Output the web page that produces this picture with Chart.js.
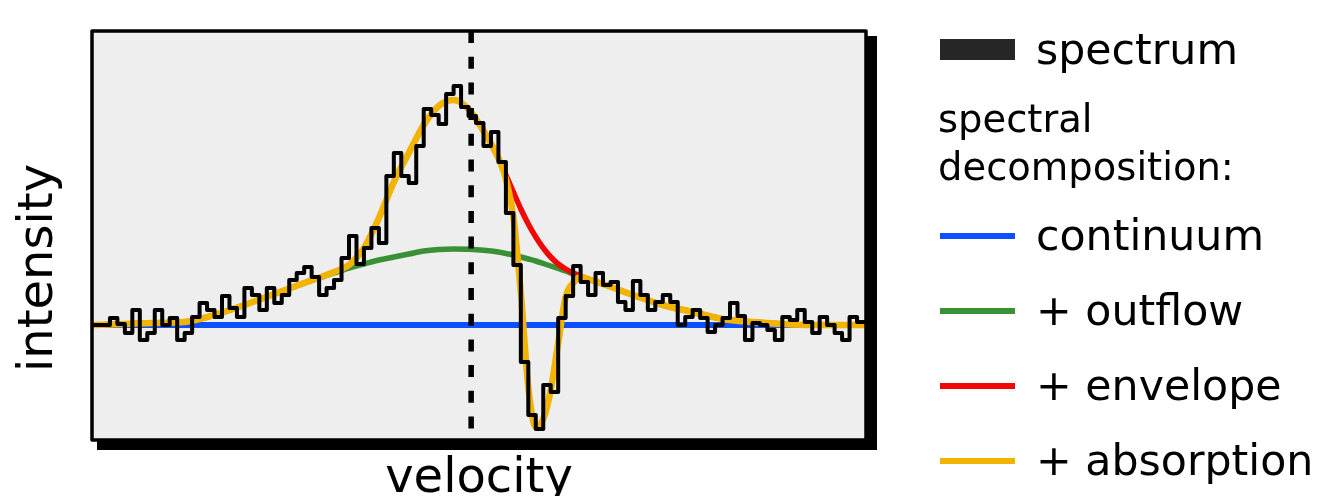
<!DOCTYPE html>
<html>
<head>
<meta charset="utf-8">
<script src="https://cdn.jsdelivr.net/npm/chart.js@4"></script>
<style>
  html, body { margin: 0; padding: 0; background: #fff; overflow: hidden; }
  #wrap { position: relative; width: 1318px; height: 496px; }
</style>
</head>
<body>
<div id="wrap"><canvas id="chart"></canvas></div>
<script>
// Axis ranges (velocity in channel units, intensity relative to the continuum)
const xMin = -2.4, xMax = 101.2;
const yMin = -0.15, yMax = 3.94;
const restVelocity = 48.35;
const continuumLevel = 1.0;

// Observed spectrum: first value covers xMin..0, then one value per channel 0..100
const spectrum = [
  1.00, 1.07, 1.01, 0.92, 1.15, 0.85, 0.92, 1.15, 1.00, 1.07,
  0.85, 0.92, 1.08, 1.22, 1.15, 1.08, 1.29, 1.17, 1.08, 1.37,
  1.30, 1.15, 1.37, 1.22, 1.30, 1.45, 1.52, 1.58, 1.48, 1.30,
  1.37, 1.45, 1.67, 1.89, 1.61, 1.77, 1.97, 1.82, 2.49, 2.72,
  2.49, 2.42, 2.79, 3.16, 3.10, 3.01, 3.31, 3.39, 3.18, 3.09,
  3.02, 2.79, 2.93, 2.63, 2.12, 1.60, 0.63, 0.10, -0.04, 0.40,
  0.33, 1.07, 1.29, 1.59, 1.43, 1.30, 1.52, 1.40, 1.43, 1.23,
  1.15, 1.44, 1.30, 1.15, 1.23, 1.30, 1.23, 1.00, 1.08, 1.15,
  1.07, 0.93, 1.00, 1.07, 1.22, 1.09, 0.85, 1.02, 1.00, 0.95,
  0.85, 1.08, 1.05, 1.15, 1.03, 0.92, 1.08, 1.00, 0.92, 0.85,
  1.08, 1.03
];

// Fitted components, sampled along the velocity axis
const curveX = [
  -2.4, 2, 6, 10, 14, 18, 22, 26, 30,
  32, 34, 36, 38, 40, 42, 44, 46, 48, 50, 52,
  53, 54, 55, 56, 57, 58, 59, 60, 61, 62, 63, 64,
  66, 70, 74, 78, 82, 86, 90, 94, 98, 101.2
];
const outflow = [
  1.00, 1.01, 1.02, 1.03, 1.10, 1.20, 1.31, 1.42, 1.52,
  1.57, 1.61, 1.65, 1.68, 1.71, 1.74, 1.755, 1.76, 1.757, 1.748, 1.73,
  1.715, 1.70, 1.68, 1.66, 1.64, 1.615, 1.59, 1.565, 1.54, 1.51, 1.485, 1.46,
  1.41, 1.30, 1.20, 1.13, 1.06, 1.03, 1.01, 1.00, 1.00, 1.00
];
const envelope = [
  1.00, 1.01, 1.02, 1.03, 1.10, 1.20, 1.31, 1.42, 1.53,
  1.60, 1.77, 2.07, 2.43, 2.72, 3.00, 3.19, 3.25, 3.16, 2.94, 2.67,
  2.50, 2.33, 2.16, 2.01, 1.88, 1.77, 1.68, 1.61, 1.56, 1.52, 1.49, 1.46,
  1.41, 1.30, 1.20, 1.13, 1.06, 1.03, 1.01, 1.00, 1.00, 1.00
];
const absorption = [
  1.00, 1.01, 1.02, 1.03, 1.10, 1.20, 1.31, 1.42, 1.53,
  1.60, 1.77, 2.07, 2.43, 2.72, 3.00, 3.19, 3.25, 3.16, 2.94, 2.67,
  2.46, 2.08, 1.32, 0.38, -0.02, 0.06, 0.35, 0.82, 1.28, 1.42, 1.48, 1.46,
  1.41, 1.30, 1.20, 1.13, 1.06, 1.03, 1.01, 1.00, 1.00, 1.00
];

const seriesLabels = ["continuum", "+ outflow", "+ envelope", "+ absorption"];
const seriesColors = ["#0d50ff", "#3a9135", "#f20707", "#f2b400"];
const FONT = '"DejaVu Sans", sans-serif';

function toPoints(xs, ys) {
  return xs.map((x, i) => ({ x: x, y: ys[i] }));
}

const spectrumPoints = spectrum.map((v, i) => ({ x: i === 0 ? xMin : i - 1, y: v }));
spectrumPoints.push({ x: xMax, y: spectrum[spectrum.length - 1] });

// Grey panel with black drop shadow and frame
const framePlugin = {
  id: "frame",
  beforeDatasetsDraw(chart) {
    const { ctx, chartArea: a } = chart;
    ctx.save();
    ctx.fillStyle = "#000";
    ctx.fillRect(a.left + 5, a.top + 5, a.width + 6, a.height + 5);
    ctx.fillStyle = "#eeeeee";
    ctx.fillRect(a.left, a.top, a.width, a.height);
    ctx.restore();
  },
  afterDatasetsDraw(chart) {
    const { ctx, chartArea: a } = chart;
    ctx.save();
    ctx.strokeStyle = "#000";
    ctx.lineWidth = 3.5;
    ctx.lineJoin = "round";
    ctx.strokeRect(a.left, a.top, a.width, a.height);
    ctx.restore();
  }
};

// Axis titles (the y title sits a little below the panel centre)
const titlePlugin = {
  id: "axisTitles",
  afterDraw(chart) {
    const { ctx, chartArea: a } = chart;
    ctx.save();
    ctx.fillStyle = "#000";
    ctx.font = "48px " + FONT;
    ctx.textAlign = "center";
    ctx.textBaseline = "alphabetic";
    ctx.fillText("velocity", (a.left + a.right) / 2, a.bottom + 51.5);
    ctx.translate(a.left - 40.5, (a.top + a.bottom) / 2 + 32.5);
    ctx.rotate(-Math.PI / 2);
    ctx.fillText("intensity", 0, 0);
    ctx.restore();
  }
};

// Legend on the right with the "spectral decomposition:" header
const legendPlugin = {
  id: "sideLegend",
  afterDraw(chart) {
    const ctx = chart.ctx;
    ctx.save();
    ctx.textAlign = "left";
    ctx.textBaseline = "alphabetic";
    ctx.fillStyle = "#262626";
    ctx.fillRect(940, 39, 75, 21);
    ctx.fillStyle = "#000";
    ctx.font = "42.7px " + FONT;
    ctx.fillText("spectrum", 1036, 64);
    ctx.font = "38.5px " + FONT;
    ctx.fillText("spectral", 938, 132);
    ctx.fillText("decomposition:", 938, 180);
    ctx.font = "42.7px " + FONT;
    ctx.lineWidth = 6;
    ctx.lineCap = "butt";
    seriesLabels.forEach((label, i) => {
      const y = 236 + 75 * i;
      ctx.strokeStyle = seriesColors[i];
      ctx.beginPath();
      ctx.moveTo(940, y);
      ctx.lineTo(1015, y);
      ctx.stroke();
      ctx.fillText(label, 1036, y + 14);
    });
    ctx.restore();
  }
};

const curveStyle = {
  pointRadius: 0,
  cubicInterpolationMode: "monotone",
  borderCapStyle: "butt",
  borderJoinStyle: "round",
  fill: false
};

new Chart(document.getElementById("chart"), {
  type: "line",
  data: {
    datasets: [
      {
        label: "spectrum",
        data: spectrumPoints,
        borderColor: "#000",
        borderWidth: 4,
        stepped: true,
        pointRadius: 0,
        borderJoinStyle: "round",
        fill: false
      },
      {
        label: "rest velocity",
        data: [{ x: restVelocity, y: yMax }, { x: restVelocity, y: yMin }],
        borderColor: "#000",
        borderWidth: 5.5,
        borderDash: [12, 13.7],
        borderCapStyle: "butt",
        pointRadius: 0,
        fill: false
      },
      { ...curveStyle, label: seriesLabels[3], data: toPoints(curveX, absorption), borderColor: seriesColors[3], borderWidth: 6.5 },
      { ...curveStyle, label: seriesLabels[2], data: toPoints(curveX, envelope), borderColor: seriesColors[2], borderWidth: 5.5 },
      { ...curveStyle, label: seriesLabels[1], data: toPoints(curveX, outflow), borderColor: seriesColors[1], borderWidth: 5.5 },
      {
        ...curveStyle,
        label: seriesLabels[0],
        data: [{ x: xMin, y: continuumLevel }, { x: xMax, y: continuumLevel }],
        borderColor: seriesColors[0],
        borderWidth: 6
      }
    ]
  },
  options: {
    responsive: true,
    maintainAspectRatio: false,
    devicePixelRatio: 1,
    animation: false,
    layout: { padding: { left: 92, top: 31, right: 452, bottom: 56 } },
    scales: {
      x: { type: "linear", min: xMin, max: xMax, display: false },
      y: { type: "linear", min: yMin, max: yMax, display: false }
    },
    plugins: {
      legend: { display: false },
      tooltip: { enabled: false }
    }
  },
  plugins: [framePlugin, titlePlugin, legendPlugin]
});
</script>
</body>
</html>
